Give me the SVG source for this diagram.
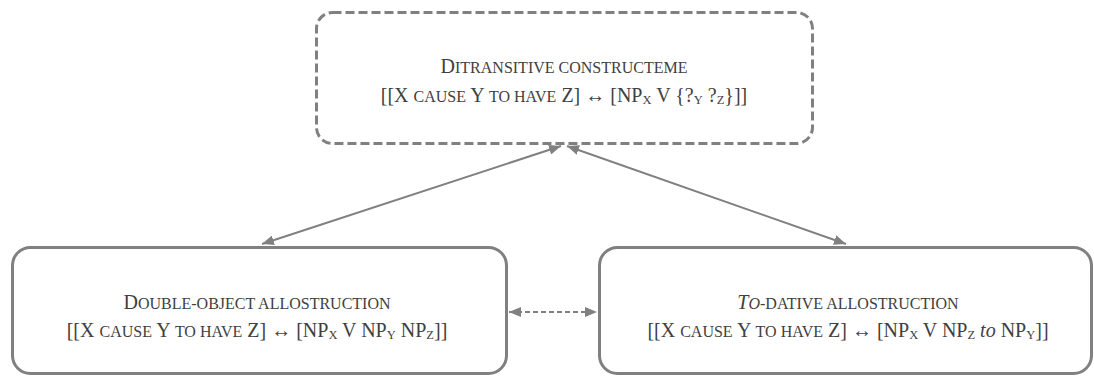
<svg xmlns="http://www.w3.org/2000/svg" width="1094" height="376" viewBox="0 0 1094 376">
  <style>
    .box { fill: #ffffff; stroke: #808080; stroke-width: 3; }
    .dashed { stroke-dasharray: 9 4; }
    .lbl { font-family: "Liberation Serif", "DejaVu Serif", serif; font-size: 20px; fill: #404040; text-anchor: middle; }
    .sc { font-size: 16px; }
    .sub { font-size: 12.5px; }
    .it { font-style: italic; }
    .link { fill: none; stroke: #808080; stroke-width: 2; }
    .dash-link { stroke-dasharray: 5 3; }
  </style>
  <defs>
    <marker id="head" viewBox="0 0 12 10" refX="12" refY="5" markerWidth="12" markerHeight="10" markerUnits="userSpaceOnUse" orient="auto-start-reverse">
      <path d="M0,0 L12,5 L0,10 z" fill="#808080"/>
    </marker>
  </defs>

  <!-- abstract constructeme -->
  <g id="constructeme">
    <rect class="box dashed" x="316.5" y="12.5" width="496" height="131" rx="16"/>
    <text class="lbl" x="564" y="73">D<tspan class="sc">ITRANSITIVE CONSTRUCTEME</tspan></text>
    <text class="lbl" x="564" y="102">[[X <tspan class="sc">CAUSE</tspan> Y <tspan class="sc">TO HAVE</tspan> Z] ↔ [NP<tspan class="sub" dy="1.5">X</tspan><tspan dy="-1.5"> V {?</tspan><tspan class="sub" dy="1.5">Y</tspan><tspan dy="-1.5"> ?</tspan><tspan class="sub" dy="1.5">Z</tspan><tspan dy="-1.5">}]]</tspan></text>
  </g>

  <!-- double-object variant -->
  <g id="double-object">
    <rect class="box" x="12.5" y="247.5" width="494" height="126" rx="18"/>
    <text class="lbl" x="257" y="309">D<tspan class="sc">OUBLE-OBJECT ALLOSTRUCTION</tspan></text>
    <text class="lbl" x="257" y="337">[[X <tspan class="sc">CAUSE</tspan> Y <tspan class="sc">TO HAVE</tspan> Z] ↔ [NP<tspan class="sub" dy="1.5">X</tspan><tspan dy="-1.5"> V NP</tspan><tspan class="sub" dy="1.5">Y</tspan><tspan dy="-1.5"> NP</tspan><tspan class="sub" dy="1.5">Z</tspan><tspan dy="-1.5">]]</tspan></text>
  </g>

  <!-- to-dative variant -->
  <g id="to-dative">
    <rect class="box" x="599.5" y="247.5" width="492" height="126" rx="18"/>
    <text class="lbl" x="848" y="309"><tspan class="it">T</tspan><tspan class="it sc">O</tspan><tspan class="sc">-DATIVE ALLOSTRUCTION</tspan></text>
    <text class="lbl" x="848" y="337">[[X <tspan class="sc">CAUSE</tspan> Y <tspan class="sc">TO HAVE</tspan> Z] ↔ [NP<tspan class="sub" dy="1.5">X</tspan><tspan dy="-1.5"> V NP</tspan><tspan class="sub" dy="1.5">Z</tspan><tspan dy="-1.5"> </tspan><tspan class="it">to</tspan> NP<tspan class="sub" dy="1.5">Y</tspan><tspan dy="-1.5">]]</tspan></text>
  </g>

  <!-- connectors -->
  <g id="connectors">
    <line class="link" x1="262" y1="244" x2="561" y2="146" marker-start="url(#head)" marker-end="url(#head)"/>
    <line class="link" x1="846" y1="244" x2="567" y2="146" marker-start="url(#head)" marker-end="url(#head)"/>
    <line class="link dash-link" x1="509" y1="312" x2="597" y2="312" marker-start="url(#head)" marker-end="url(#head)"/>
  </g>
</svg>
